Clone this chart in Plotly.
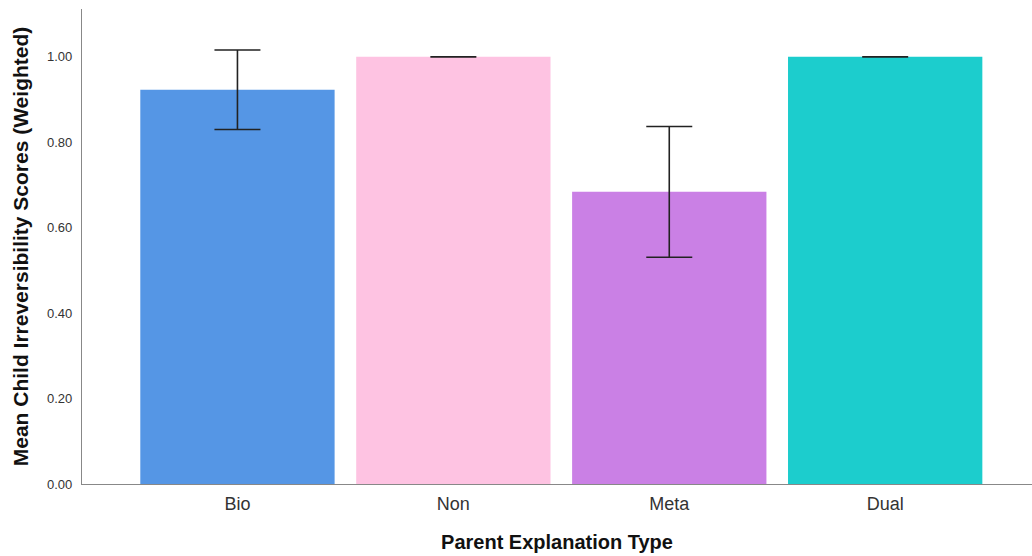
import plotly.graph_objects as go

# Mean weighted irreversibility scores by parent explanation type
categories = ["Bio", "Non", "Meta", "Dual"]
means = [0.923, 1.00, 0.684, 1.00]
errors = [0.093, 0.0, 0.153, 0.0]
colors = ["#5596e5", "#fec3e2", "#ca80e5", "#1ccdcd"]
y_ticks = [0.0, 0.2, 0.4, 0.6, 0.8, 1.0]

fig = go.Figure(
    go.Bar(
        x=categories,
        y=means,
        marker=dict(color=colors, line=dict(width=0)),
        width=0.9,
        error_y=dict(type="data", array=errors, visible=True,
                     color="#222222", thickness=1.6, width=23),
    )
)

fig.update_layout(
    width=1032,
    height=556,
    margin=dict(l=82, r=0, t=9, b=72),
    plot_bgcolor="white",
    paper_bgcolor="white",
    showlegend=False,
    font=dict(family="Liberation Sans, Arial, sans-serif", color="#222222"),
    xaxis=dict(
        range=[-0.72, 3.68],
        showline=True, linecolor="#888888", linewidth=1.3,
        showgrid=False, ticks="",
        tickfont=dict(size=18, color="#333333"),
        ticklabelstandoff=3,
        title=dict(text="<b>Parent Explanation Type</b>", font=dict(size=20, color="#111111"),
                   standoff=22),
    ),
    yaxis=dict(
        range=[0, 1.112],
        showline=True, linecolor="#888888", linewidth=1.3,
        showgrid=False, zeroline=False, ticks="",
        tickvals=y_ticks, tickformat=".2f",
        tickfont=dict(size=13, color="#333333"),
        ticklabelstandoff=6,
        title=dict(text="<b>Mean Child Irreversibility Scores (Weighted)</b>",
                   font=dict(size=21, color="#111111"), standoff=12),
    ),
)

fig.write_html("out.html")
